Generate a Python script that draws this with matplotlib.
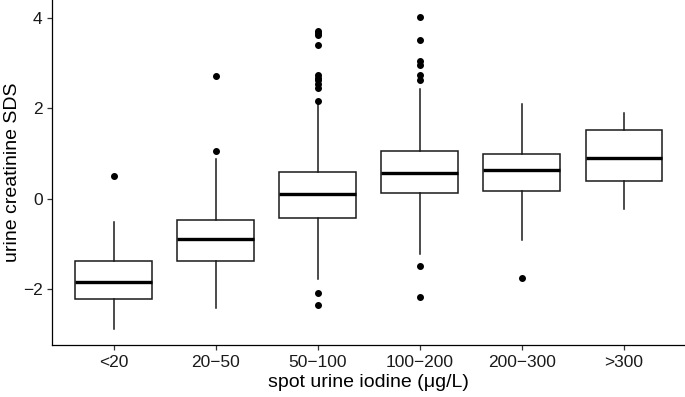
import matplotlib
matplotlib.use("Agg")
import matplotlib.pyplot as plt

plt.rcParams["font.family"] = ["Liberation Sans", "DejaVu Sans"]

# ---- data ------------------------------------------------------------------
groups = ["<20", "20\u221250", "50\u2212100", "100\u2212200", "200\u2212300", ">300"]
whislo = [-2.89, -2.43, -1.78, -1.22, -0.91, -0.23]
q1 = [-2.22, -1.39, -0.42, 0.12, 0.18, 0.39]
med = [-1.84, -0.90, 0.10, 0.57, 0.63, 0.89]
q3 = [-1.39, -0.48, 0.60, 1.055, 1.00, 1.53]
whishi = [-0.51, 0.885, 2.11, 2.44, 2.10, 1.90]
fliers = [
    [0.50],
    [2.72, 1.055],
    [3.72, 3.67, 3.63, 3.40, 2.74, 2.68, 2.62, 2.54, 2.46, 2.16, -2.09, -2.35],
    [4.03, 3.51, 3.05, 2.96, 2.74, 2.62, -1.50, -2.17],
    [-1.75],
    [],
]

stats = [dict(label=g, whislo=wl, q1=a, med=m, q3=b, whishi=wh, fliers=f)
         for g, wl, a, m, b, wh, f in zip(groups, whislo, q1, med, q3, whishi, fliers)]

fig = plt.figure(figsize=(6.85, 3.97), dpi=100)
ax = fig.add_axes([0.0764, 0.131, 0.9236, 0.869])

LW = 1.1
ax.bxp(stats, positions=range(1, len(groups) + 1), widths=0.75,
       showcaps=False, patch_artist=True,
       boxprops=dict(facecolor="white", edgecolor="#1a1a1a", linewidth=LW),
       whiskerprops=dict(color="#1a1a1a", linewidth=LW),
       medianprops=dict(color="black", linewidth=LW * 2.2, solid_capstyle="butt"),
       flierprops=dict(marker="o", markerfacecolor="black", markeredgecolor="black",
                       markersize=4, linestyle="none"))

ax.set_xlim(0.4, 6.6)
ax.set_ylim(-3.24, 4.40)
ax.set_yticks([-2, 0, 2, 4])
ax.set_yticklabels(["\u22122", "0", "2", "4"])
ax.set_xticks(range(1, len(groups) + 1))
ax.set_xticklabels(groups)

for s in ("top", "right"):
    ax.spines[s].set_visible(False)
for s in ("left", "bottom"):
    ax.spines[s].set_linewidth(0.9)
    ax.spines[s].set_color("black")

ax.tick_params(axis="both", length=3.5, width=0.9, color="#333333",
               labelsize=12.5, labelcolor="#1a1a1a", pad=3.5)
ax.set_xlabel("spot urine iodine (\u03bcg/L)", fontsize=14, color="black", labelpad=3)
ax.set_ylabel("urine creatinine SDS", fontsize=14, color="black", labelpad=1)

fig.savefig("out.png", dpi=100)
